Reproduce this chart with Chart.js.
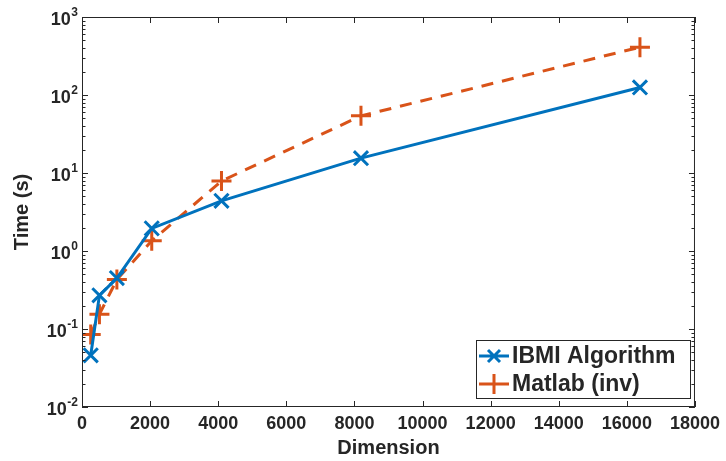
<!DOCTYPE html>
<html>
<head>
<meta charset="utf-8">
<script src="https://cdn.jsdelivr.net/npm/chart.js@4.4.0/dist/chart.umd.min.js"></script>
<style>
  html, body { margin: 0; padding: 0; background: #fff; }
  #wrap { width: 726px; height: 461px; }
</style>
</head>
<body>
<div id="wrap"><canvas id="c" width="726" height="461"></canvas></div>
<script>
"use strict";

// values
var dims = [256, 512, 1024, 2048, 4096, 8192, 16384];
var ibmiTimes = [0.046, 0.27, 0.45, 1.95, 4.4, 15.5, 125];
var matlabTimes = [0.085, 0.155, 0.43, 1.35, 7.9, 54, 410];
var xTicks = [0, 2000, 4000, 6000, 8000, 10000, 12000, 14000, 16000, 18000];
var yDecades = [-2, -1, 0, 1, 2, 3];

var BLUE = '#0072BD';
var ORANGE = '#D95319';
var AXIS = '#262626';
var FONT = '"Liberation Sans", Arial, Helvetica, sans-serif';

function toPoints(xs, ys) {
    return xs.map(function (x, i) { return { x: x, y: ys[i] }; });
}

var matlabAxes = {
    id: 'matlabAxes',
    afterDraw: function (chart) {
        var ctx = chart.ctx;
        var a = chart.chartArea;
        var xs = chart.scales.x, ys = chart.scales.y;
        ctx.save();
        ctx.strokeStyle = AXIS;
        ctx.lineWidth = 1;
        // box
        ctx.strokeRect(a.left + 0.5, a.top + 0.5, a.right - a.left - 1, a.bottom - a.top - 1);
        // x ticks, bottom and top, inward
        ctx.beginPath();
        xTicks.forEach(function (v) {
            var px = Math.round(xs.getPixelForValue(v)) + 0.5;
            ctx.moveTo(px, a.bottom); ctx.lineTo(px, a.bottom - 6);
            ctx.moveTo(px, a.top); ctx.lineTo(px, a.top + 6);
        });
        // y ticks, major and minor, left and right
        yDecades.forEach(function (d) {
            for (var m = 1; m <= 9; m++) {
                if (d === 3 && m > 1) break;
                var py = Math.round(ys.getPixelForValue(m * Math.pow(10, d))) + 0.5;
                var len = m === 1 ? 6 : 3.5;
                ctx.moveTo(a.left, py); ctx.lineTo(a.left + len, py);
                ctx.moveTo(a.right, py); ctx.lineTo(a.right - len, py);
            }
        });
        ctx.stroke();

        // y labels 10^n
        ctx.fillStyle = AXIS;
        ctx.textBaseline = 'alphabetic';
        yDecades.forEach(function (d) {
            var py = ys.getPixelForValue(Math.pow(10, d));
            ctx.font = 'bold 12px ' + FONT;
            var exp = String(d);
            var ew = ctx.measureText(exp).width;
            ctx.textAlign = 'left';
            var ex = a.left - 4 - ew;
            ctx.fillText(exp, ex, py - 1);
            ctx.font = 'bold 18px ' + FONT;
            ctx.textAlign = 'right';
            ctx.fillText('10', ex - 0.5, py + 8);
        });

        // y title
        ctx.save();
        ctx.translate(22, (a.top + a.bottom) / 2);
        ctx.rotate(-Math.PI / 2);
        ctx.font = 'bold 20px ' + FONT;
        ctx.textAlign = 'center';
        ctx.textBaseline = 'middle';
        ctx.fillText('Time (s)', 0, 0);
        ctx.restore();

        // legend box inside lower right
        var lx = 476, ly = 340, lw = 214, lh = 58;
        ctx.fillStyle = '#fff';
        ctx.fillRect(lx, ly, lw, lh);
        ctx.strokeStyle = AXIS;
        ctx.lineWidth = 1;
        ctx.strokeRect(lx + 0.5, ly + 0.5, lw, lh);
        var items = [
            { text: 'IBMI Algorithm', color: BLUE, marker: 'x' },
            { text: 'Matlab (inv)', color: ORANGE, marker: '+' }
        ];
        items.forEach(function (it, i) {
            var cy = ly + 16 + i * 28;
            var mx = lx + 18;
            ctx.strokeStyle = it.color;
            ctx.lineWidth = 3;
            ctx.beginPath();
            ctx.moveTo(lx + 3, cy); ctx.lineTo(lx + 33, cy);
            if (it.marker === 'x') {
                ctx.moveTo(mx - 6, cy - 6); ctx.lineTo(mx + 6, cy + 6);
                ctx.moveTo(mx + 6, cy - 6); ctx.lineTo(mx - 6, cy + 6);
            } else {
                ctx.moveTo(mx, cy - 10); ctx.lineTo(mx, cy + 10);
            }
            ctx.stroke();
            ctx.fillStyle = AXIS;
            ctx.font = 'bold 23px ' + FONT;
            ctx.textAlign = 'left';
            ctx.textBaseline = 'middle';
            ctx.fillText(it.text, lx + 36, cy + 1);
        });
        ctx.restore();
    }
};

new Chart(document.getElementById('c'), {
    type: 'line',
    data: {
        datasets: [{
            label: 'IBMI Algorithm',
            data: toPoints(dims, ibmiTimes),
            borderColor: BLUE,
            backgroundColor: BLUE,
            borderWidth: 3,
            pointStyle: 'crossRot',
            pointRadius: 10,
            pointBorderWidth: 3,
            pointBorderColor: BLUE,
            fill: false,
            tension: 0
        }, {
            label: 'Matlab (inv)',
            data: toPoints(dims, matlabTimes),
            borderColor: ORANGE,
            backgroundColor: ORANGE,
            borderWidth: 3,
            borderDash: [12, 9],
            pointStyle: 'cross',
            pointRadius: 10,
            pointBorderWidth: 3,
            pointBorderColor: ORANGE,
            fill: false,
            tension: 0
        }]
    },
    options: {
        responsive: false,
        animation: false,
        layout: { padding: { top: 17, right: 26, left: 0, bottom: 0 } },
        plugins: {
            legend: { display: false },
            tooltip: { enabled: false }
        },
        scales: {
            x: {
                type: 'linear',
                min: 0,
                max: 18000,
                grid: { display: false, drawTicks: false },
                border: { display: false },
                ticks: {
                    stepSize: 2000,
                    padding: 6,
                    color: AXIS,
                    maxRotation: 0,
                    font: { family: FONT, size: 18, weight: 'bold' },
                    callback: function (v) { return String(v); }
                },
                title: {
                    display: true,
                    text: 'Dimension',
                    color: AXIS,
                    padding: 1,
                    font: { family: FONT, size: 20, weight: 'bold' }
                },
                afterFit: function (s) { s.height = 54; }
            },
            y: {
                type: 'logarithmic',
                min: 0.01,
                max: 1000,
                grid: { display: false, drawTicks: false },
                border: { display: false },
                ticks: { display: false },
                afterFit: function (s) { s.width = 82; }
            }
        }
    },
    plugins: [matlabAxes]
});
</script>
</body>
</html>
